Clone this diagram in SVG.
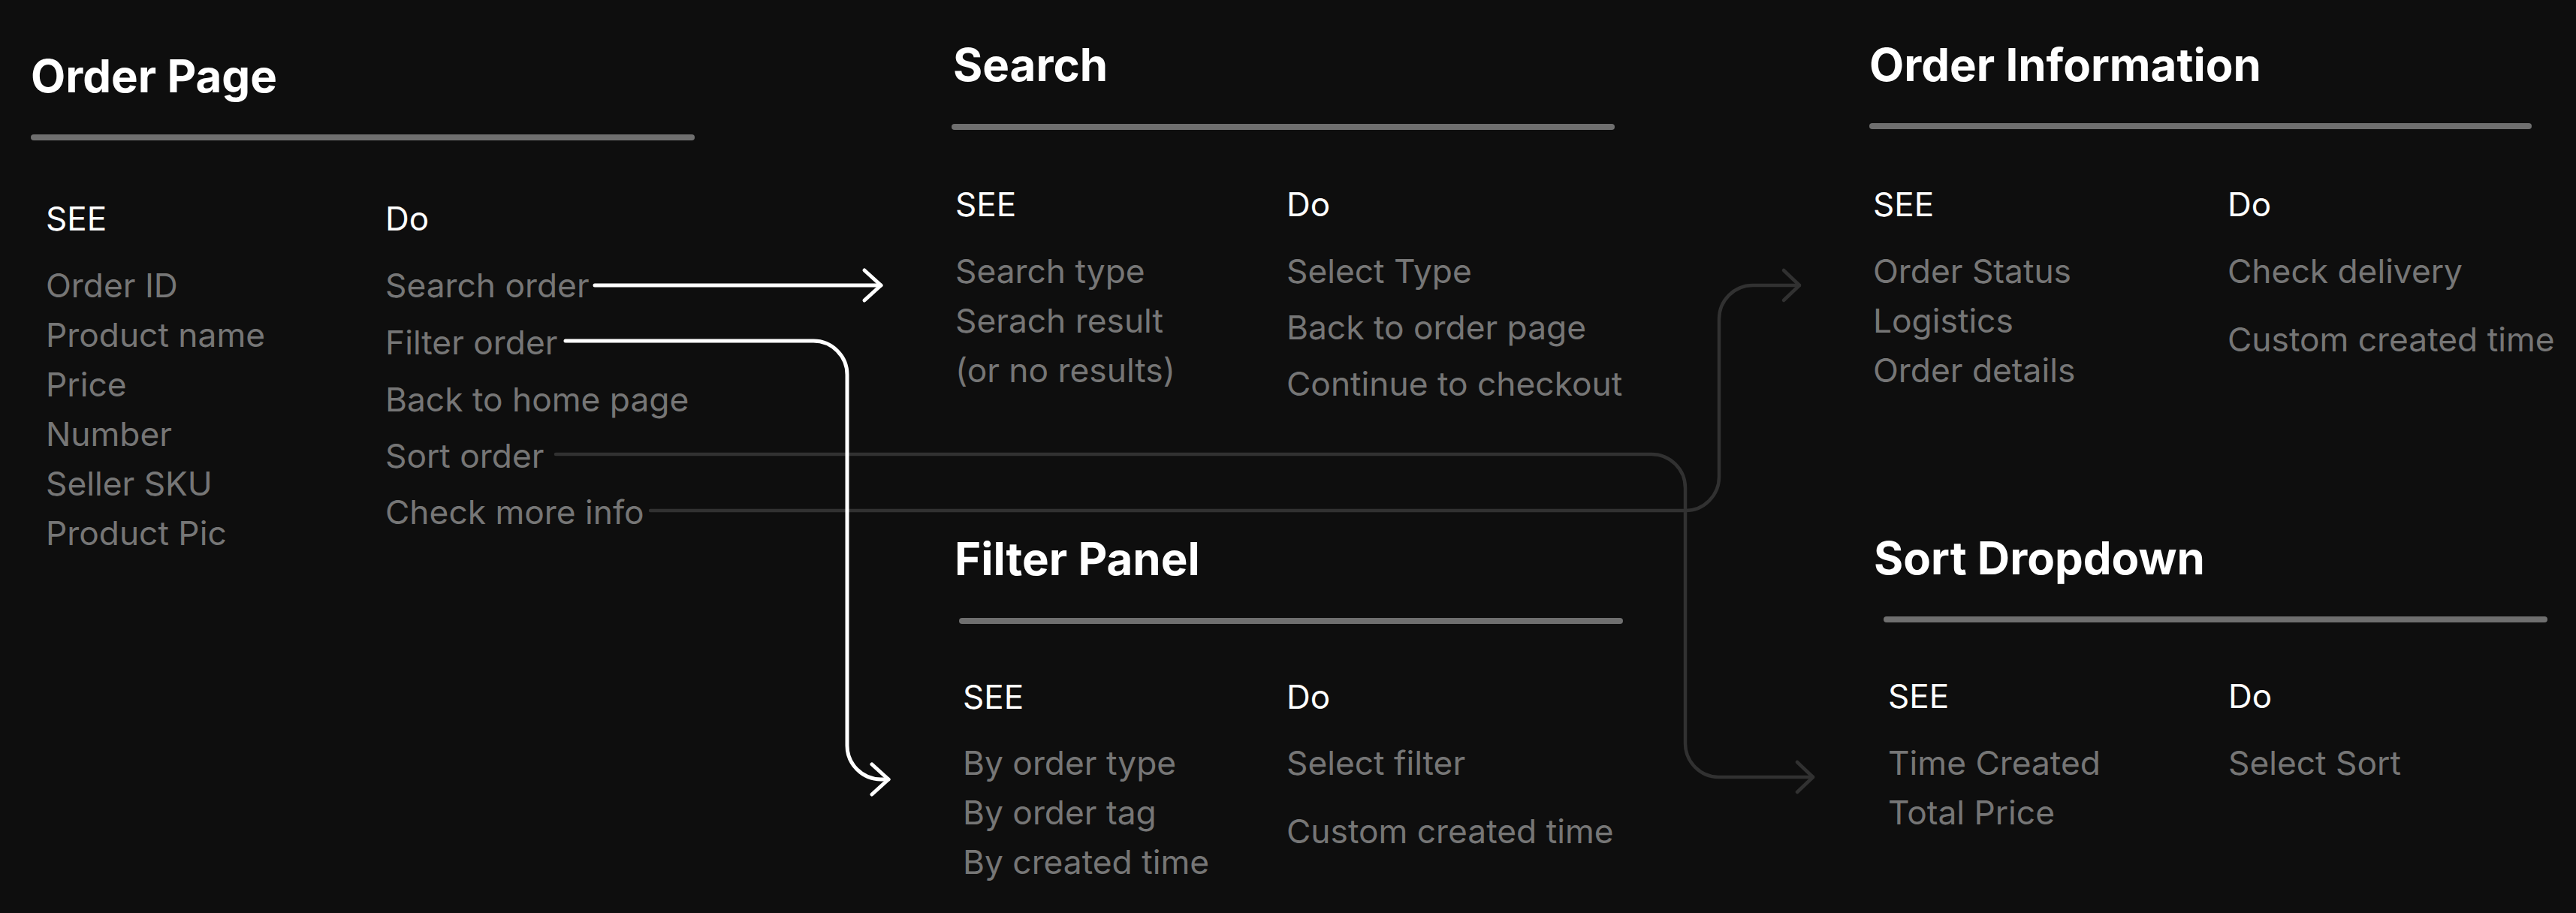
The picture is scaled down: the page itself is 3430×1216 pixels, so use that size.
<svg xmlns="http://www.w3.org/2000/svg" width="3430" height="1216" viewBox="0 0 3430 1216">
<style>
.title{font-family:Inter,"Liberation Sans",sans-serif;font-weight:700;font-size:60px;fill:#ffffff}
.head{font-family:Inter,"Liberation Sans",sans-serif;font-weight:400;font-size:44px;fill:#ffffff}
.item{font-family:Inter,"Liberation Sans",sans-serif;font-weight:400;font-size:44.3px;fill:#767676}
.rule{stroke:#6f6f6f;stroke-width:8;stroke-linecap:round}
.conn-w{fill:none;stroke:#ffffff;stroke-width:5;stroke-linecap:round;stroke-linejoin:round}
.conn-g{fill:none;stroke:#313131;stroke-width:4.5;stroke-linecap:round;stroke-linejoin:round}
</style>
<defs>
<marker id="arrow-w" markerUnits="userSpaceOnUse" viewBox="-28 -26 32 52" refX="0" refY="0" markerWidth="32" markerHeight="52" orient="auto">
<path d="M-22,-20 L0,0 L-22,20" fill="none" stroke="#ffffff" stroke-width="5" stroke-linecap="round" stroke-linejoin="round"/>
</marker>
<marker id="arrow-g" markerUnits="userSpaceOnUse" viewBox="-28 -26 32 52" refX="0" refY="0" markerWidth="32" markerHeight="52" orient="auto">
<path d="M-21,-20 L0,0 L-21,20" fill="none" stroke="#313131" stroke-width="4.5" stroke-linecap="round" stroke-linejoin="round"/>
</marker>
</defs>
<rect x="0" y="0" width="3430" height="1216" fill="#0e0e0e"/>

<g id="connectors">
<path class="conn-g" d="M740,605 H2199 A45,45 0 0 1 2244,650 V990 A45,45 0 0 0 2289,1035 H2414" marker-end="url(#arrow-g)"/>
<path class="conn-g" d="M866,680 H2244 A45,45 0 0 0 2289,635 V425 A45,45 0 0 1 2334,380 H2396" marker-end="url(#arrow-g)"/>
<path class="conn-w" d="M792,380 H1173" marker-end="url(#arrow-w)"/>
<path class="conn-w" d="M753,454 H1083 A45,45 0 0 1 1128,499 V993 A45,45 0 0 0 1173,1038 H1183" marker-end="url(#arrow-w)"/>
</g>

<g id="node-order-page">
<text class="title" x="41" y="123">Order Page</text>
<line class="rule" x1="45" y1="183" x2="921" y2="183"/>
<text class="head" x="61" y="307">SEE</text>
<text class="head" x="513" y="307">Do</text>
<text class="item" x="61" y="396">Order ID</text>
<text class="item" x="61" y="462">Product name</text>
<text class="item" x="61" y="528">Price</text>
<text class="item" x="61" y="594">Number</text>
<text class="item" x="61" y="660">Seller SKU</text>
<text class="item" x="61" y="726">Product Pic</text>
<text class="item" x="513" y="396">Search order</text>
<text class="item" x="513" y="472">Filter order</text>
<text class="item" x="513" y="548">Back to home page</text>
<text class="item" x="513" y="623">Sort order</text>
<text class="item" x="513" y="698">Check more info</text>
</g>

<g id="node-search">
<text class="title" x="1269" y="108">Search</text>
<line class="rule" x1="1271" y1="169" x2="2146" y2="169"/>
<text class="head" x="1272" y="288">SEE</text>
<text class="head" x="1713" y="288">Do</text>
<text class="item" x="1272" y="377">Search type</text>
<text class="item" x="1272" y="443">Serach result</text>
<text class="item" x="1272" y="509">(or no results)</text>
<text class="item" x="1713" y="377">Select Type</text>
<text class="item" x="1713" y="452">Back to order page</text>
<text class="item" x="1713" y="527">Continue to checkout</text>
</g>

<g id="node-order-information">
<text class="title" x="2489" y="108">Order Information</text>
<line class="rule" x1="2493" y1="168" x2="3367" y2="168"/>
<text class="head" x="2494" y="288">SEE</text>
<text class="head" x="2966" y="288">Do</text>
<text class="item" x="2494" y="377">Order Status</text>
<text class="item" x="2494" y="443">Logistics</text>
<text class="item" x="2494" y="509">Order details</text>
<text class="item" x="2966" y="377">Check delivery</text>
<text class="item" x="2966" y="468">Custom created time</text>
</g>

<g id="node-filter-panel">
<text class="title" x="1271" y="766">Filter Panel</text>
<line class="rule" x1="1281" y1="827" x2="2157" y2="827"/>
<text class="head" x="1282" y="944">SEE</text>
<text class="head" x="1713" y="944">Do</text>
<text class="item" x="1282" y="1032">By order type</text>
<text class="item" x="1282" y="1098">By order tag</text>
<text class="item" x="1282" y="1164">By created time</text>
<text class="item" x="1713" y="1032">Select filter</text>
<text class="item" x="1713" y="1123">Custom created time</text>
</g>

<g id="node-sort-dropdown">
<text class="title" x="2495" y="765">Sort Dropdown</text>
<line class="rule" x1="2512" y1="825" x2="3388" y2="825"/>
<text class="head" x="2514" y="943">SEE</text>
<text class="head" x="2967" y="943">Do</text>
<text class="item" x="2514" y="1032">Time Created</text>
<text class="item" x="2514" y="1098">Total Price</text>
<text class="item" x="2967" y="1032">Select Sort</text>
</g>
</svg>
